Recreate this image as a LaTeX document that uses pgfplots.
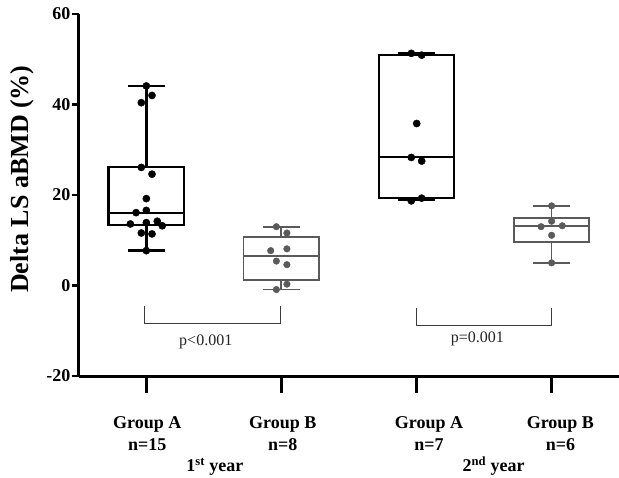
\documentclass[border=0pt]{standalone}
\usepackage{pgfplots}
\pgfplotsset{compat=1.18}
\usepgfplotslibrary{statistics}
\usepackage{fontspec}
\setmainfont{Liberation Serif}
\definecolor{grayB}{RGB}{90,90,90}
\definecolor{brk}{RGB}{60,60,60}
\definecolor{ptxt}{RGB}{35,35,35}
\begin{document}
\begin{tikzpicture}
\begin{axis}[
  scale only axis, width=540.2bp, height=362bp,
  xmin=0.5, xmax=4.5, ymin=-20, ymax=60,
  axis x line=bottom, axis y line=left,
  axis line style={-, line width=3bp},
  xtick={1,2,3,4}, xticklabels={},
  ytick={-20,0,20,40,60},
  tick align=outside,
  major tick length=7bp,
  xtick style={/pgfplots/major tick length=17bp, line width=2.5bp, black},
  ytick style={line width=2.5bp, black},
  /pgf/number format/assume math mode=true,
  yticklabel style={font=\bfseries\fontsize{18bp}{18bp}\selectfont, xshift=2bp},
  ylabel={Delta LS aBMD (\%)},
  ylabel style={font=\bfseries\fontsize{26bp}{26bp}\selectfont, at={(axis description cs:-0.105,0.544)}, anchor=center},
  clip=false,
  boxplot/draw direction=y,
  boxplot/box extend=0.56, boxplot/whisker extend=0.27,
]
% boxes
\addplot[draw=black, line width=2.2bp, boxplot/draw direction=y, boxplot/every whisker/.style={line width=2.5bp}, boxplot prepared={draw position=1, median=16.1, upper quartile=26.1, lower quartile=13.3, upper whisker=44.1, lower whisker=7.7}] coordinates {};
\addplot[draw=grayB, line width=1.8bp, boxplot/draw direction=y, boxplot prepared={draw position=2, median=6.5, upper quartile=10.8, lower quartile=1.2, upper whisker=13.0, lower whisker=-0.9}] coordinates {};
\addplot[draw=black, line width=2.2bp, boxplot/draw direction=y, boxplot/every whisker/.style={line width=2.5bp}, boxplot prepared={draw position=3, median=28.4, upper quartile=50.9, lower quartile=19.4, upper whisker=51.3, lower whisker=18.9}] coordinates {};
\addplot[draw=grayB, line width=1.8bp, boxplot/draw direction=y, boxplot prepared={draw position=4, median=13.2, upper quartile=15.0, lower quartile=9.6, upper whisker=17.6, lower whisker=5.0}] coordinates {};
% points
\addplot[only marks, mark=*, mark size=3.6bp, black] coordinates {
 (1.000,44.1) (1.042,42.0) (0.963,40.4) (0.963,26.1) (1.042,24.6) (1.000,19.2)
 (0.924,16.1) (1.000,16.6) (0.882,13.6) (1.000,13.9) (1.081,14.2) (1.118,13.2)
 (0.963,11.6) (1.042,11.4) (1.000,7.7)};
\addplot[only marks, mark=*, mark size=3.3bp, grayB] coordinates {
 (1.963,13.0) (2.041,11.6) (1.921,7.7) (2.041,8.1) (1.963,5.4) (2.041,4.6)
 (2.041,0.3) (1.963,-0.9)};
\addplot[only marks, mark=*, mark size=3.6bp, black] coordinates {
 (2.962,51.3) (3.039,50.9) (3.002,35.8) (2.962,28.3) (3.039,27.5) (2.962,18.7) (3.039,19.3)};
\addplot[only marks, mark=*, mark size=3.3bp, grayB] coordinates {
 (4.001,17.6) (4.001,14.2) (3.923,13.0) (4.080,13.2) (4.001,11.1) (4.001,5.0)};
% brackets
\addplot[brk, line width=1bp] coordinates {(0.99,-4.6) (0.99,-8.4) (1.99,-8.4) (1.99,-4.6)};
\addplot[brk, line width=1bp] coordinates {(3.0,-4.9) (3.0,-8.8) (4.0,-8.8) (4.0,-4.9)};
\node[font=\fontsize{16bp}{16bp}\selectfont, text=ptxt] at (axis cs:1.44,-12.5) {p<0.001};
\node[font=\fontsize{16bp}{16bp}\selectfont, text=ptxt] at (axis cs:3.452,-11.7) {p=0.001};
% category labels
\node[anchor=base, font=\bfseries\fontsize{18bp}{18bp}\selectfont, yshift=-52.3bp] at (axis cs:1.007,-20) {Group A};
\node[anchor=base, font=\bfseries\fontsize{18bp}{18bp}\selectfont, yshift=-74bp] at (axis cs:1.007,-20) {n=15};
\node[anchor=base, font=\bfseries\fontsize{18bp}{18bp}\selectfont, yshift=-52.3bp] at (axis cs:2.01,-20) {Group B};
\node[anchor=base, font=\bfseries\fontsize{18bp}{18bp}\selectfont, yshift=-74bp] at (axis cs:2.01,-20) {n=8};
\node[anchor=base, font=\bfseries\fontsize{18bp}{18bp}\selectfont, yshift=-52.3bp] at (axis cs:3.093,-20) {Group A};
\node[anchor=base, font=\bfseries\fontsize{18bp}{18bp}\selectfont, yshift=-74bp] at (axis cs:3.093,-20) {n=7};
\node[anchor=base, font=\bfseries\fontsize{18bp}{18bp}\selectfont, yshift=-52.3bp] at (axis cs:4.066,-20) {Group B};
\node[anchor=base, font=\bfseries\fontsize{18bp}{18bp}\selectfont, yshift=-74bp] at (axis cs:4.066,-20) {n=6};
\node[anchor=base, font=\bfseries\fontsize{18bp}{18bp}\selectfont, yshift=-95.7bp] at (axis cs:1.508,-20) {1\textsuperscript{st} year};
\node[anchor=base, font=\bfseries\fontsize{18bp}{18bp}\selectfont, yshift=-95.7bp] at (axis cs:3.572,-20) {2\textsuperscript{nd} year};
\end{axis}
\pgfresetboundingbox
\path[use as bounding box] (-78.8bp,-102bp) rectangle (540.2bp,376bp);
\end{tikzpicture}
\end{document}
